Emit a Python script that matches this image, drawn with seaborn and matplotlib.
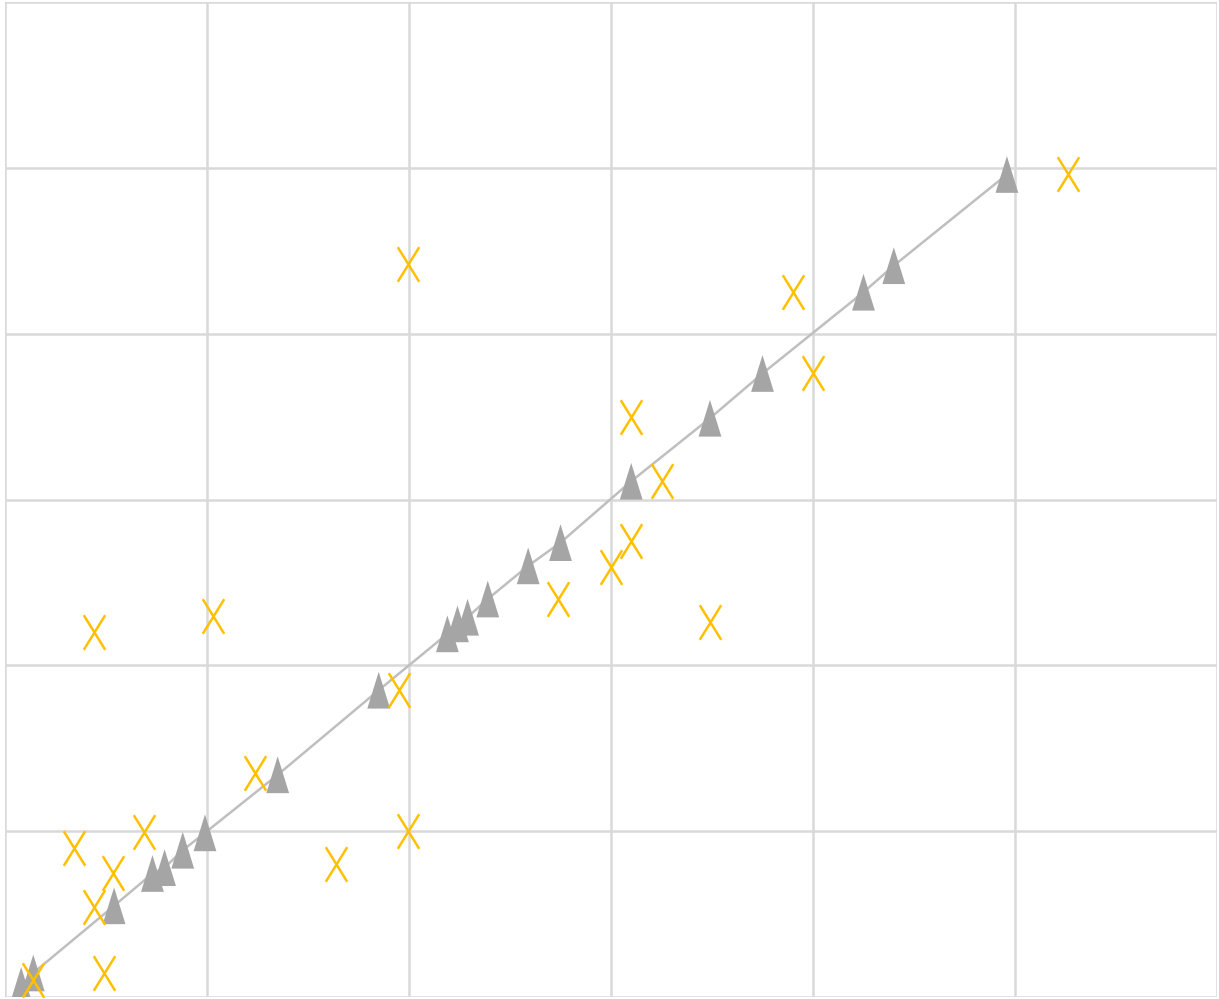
import matplotlib
matplotlib.use("Agg")
import matplotlib.pyplot as plt
from matplotlib.path import Path
import seaborn as sns
import pandas as pd

# Reference series (gray triangles, joined by a line)
ref_x = [0.08, 0.14, 0.54, 0.73, 0.79, 0.88, 0.99, 1.35, 1.85, 2.19, 2.24, 2.29, 2.39, 2.59, 2.75, 3.10, 3.49, 3.75, 4.25, 4.40, 4.96]
ref_y = [0.07, 0.145, 0.55, 0.745, 0.78, 0.885, 0.99, 1.34, 1.85, 2.19, 2.25, 2.29, 2.40, 2.60, 2.74, 3.11, 3.49, 3.76, 4.25, 4.41, 4.96]

# Comparison series (gold crosses)
cmp_x = [0.14, 0.49, 0.44, 0.535, 0.34, 0.69, 0.44, 1.03, 1.24, 1.64, 1.95, 1.995, 1.995, 2.74, 3.00, 3.10, 3.10, 3.25, 3.49, 3.90, 4.00, 5.26]
cmp_y = [0.10, 0.145, 0.54, 0.75, 0.90, 0.995, 2.20, 2.30, 1.35, 0.80, 1.85, 1.00, 4.42, 2.40, 2.59, 2.75, 3.50, 3.11, 2.26, 4.25, 3.76, 4.96]

grid_ticks = [0, 1, 2, 3, 4, 5, 6]

ref = pd.DataFrame({"x": ref_x, "y": ref_y})
cmp = pd.DataFrame({"x": cmp_x, "y": cmp_y})

sns.set_theme(style="white")

fig = plt.figure(figsize=(12.19, 9.99), dpi=100)
ax = fig.add_axes([5 / 1219, 2 / 999, 1212 / 1219, 995 / 999])

# Tall triangle and tall cross markers
tri = Path([(0, 1), (-0.62, -1), (0.62, -1), (0, 1)],
           [Path.MOVETO, Path.LINETO, Path.LINETO, Path.CLOSEPOLY])
cross = Path([(-0.62, -1), (0.62, 1), (-0.62, 1), (0.62, -1)],
             [Path.MOVETO, Path.LINETO, Path.MOVETO, Path.LINETO])

sns.lineplot(data=ref, x="x", y="y", ax=ax, color="#bfbfbf", linewidth=1.8,
             estimator=None, sort=True, zorder=2)
sns.scatterplot(data=ref, x="x", y="y", ax=ax, marker=tri, s=700,
                color="#a5a5a5", edgecolor="none", linewidth=0, zorder=3)
sns.scatterplot(data=cmp, x="x", y="y", ax=ax, marker=cross, s=620,
                color="#ffc000", edgecolor="#ffc000", linewidth=1.8, zorder=4)

ax.set_xlim(grid_ticks[0], grid_ticks[-1])
ax.set_ylim(grid_ticks[0], grid_ticks[-1])
ax.set_xticks(grid_ticks)
ax.set_yticks(grid_ticks)
ax.set_xticklabels([])
ax.set_yticklabels([])
ax.tick_params(length=0)
ax.set_xlabel("")
ax.set_ylabel("")
ax.grid(True, color="#d9d9d9", linewidth=1.8, zorder=0)
ax.set_axisbelow(True)
for sp in ax.spines.values():
    sp.set_visible(False)

fig.savefig("out.png", dpi=100)
